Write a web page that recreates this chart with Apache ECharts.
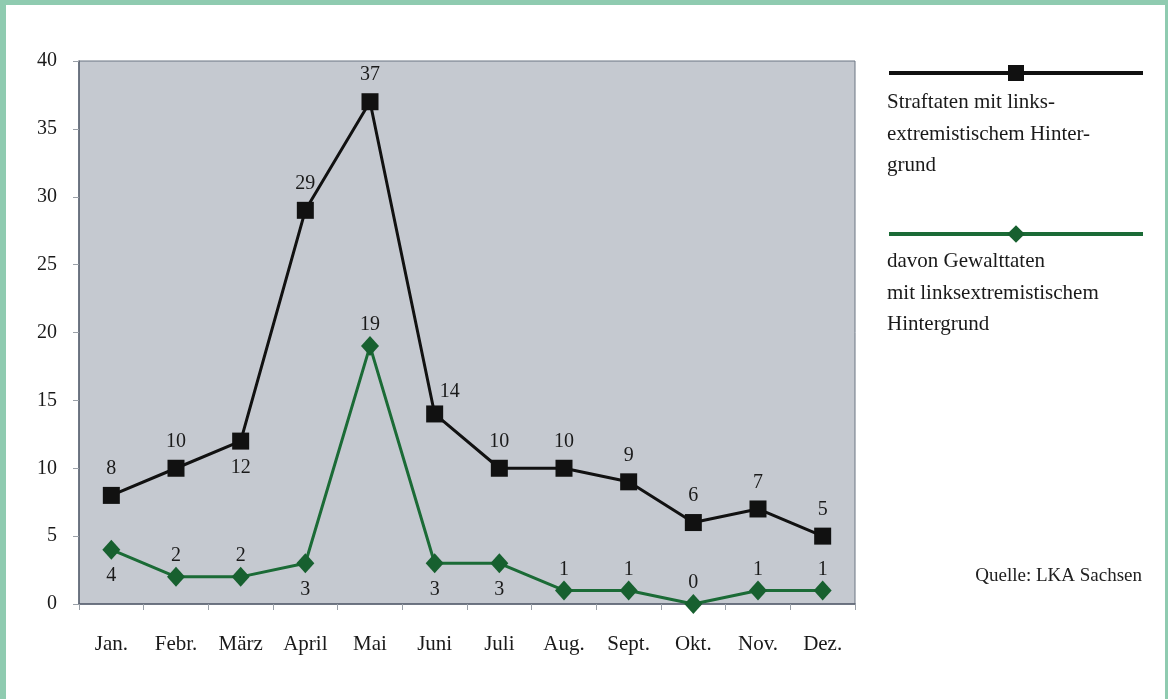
<!DOCTYPE html>
<html>
<head>
<meta charset="utf-8">
<script src="https://cdn.jsdelivr.net/npm/echarts@6/dist/echarts.min.js"></script>
<style>
  html, body { margin: 0; padding: 0; background: #fff; }
  #chart { width: 1168px; height: 699px; }
  .frame {
    position: absolute; left: 0; top: 0; width: 1168px; height: 699px;
    box-sizing: border-box; pointer-events: none;
    border-left: 6px solid #8fcbb0; border-top: 5px solid #8fcbb0;
    border-right: 3px solid #8fcbb0;
  }
</style>
</head>
<body>
<div id="chart"></div>
<div class="frame"></div>
<script>
// Monatswerte
const months = ['Jan.', 'Febr.', 'März', 'April', 'Mai', 'Juni', 'Juli', 'Aug.', 'Sept.', 'Okt.', 'Nov.', 'Dez.']
const straftaten = [8, 10, 12, 29, 37, 14, 10, 10, 9, 6, 7, 5]
const gewalttaten = [4, 2, 2, 3, 19, 3, 3, 1, 1, 0, 1, 1]
const yTicks = [0, 5, 10, 15, 20, 25, 30, 35, 40]

const seriesNames = ['Straftaten mit linksextremistischem Hintergrund', 'davon Gewalttaten mit linksextremistischem Hintergrund']

// which labels sit under the point
const blackBelow = [2]
const greenBelow = [0, 3, 5, 6]

const serif = '"Liberation Serif", "DejaVu Serif", serif'

function blackPoints(values) {
  return values.map((v, i) => {
    let lbl = { position: blackBelow.includes(i) ? 'bottom' : 'top', distance: 8 }
    if (i === 5) lbl = { position: 'top', offset: [15, 4], distance: 8 }
    return { value: v, label: lbl }
  })
}

function greenPoints(values) {
  return values.map((v, i) => {
    const below = greenBelow.includes(i)
    return { value: v, label: { position: below ? 'bottom' : 'top', distance: below ? 6 : 1 } }
  })
}

const chart = echarts.init(document.getElementById('chart'))
chart.setOption({
  backgroundColor: '#ffffff',
  animation: false,
  textStyle: { fontFamily: serif },
  grid: {
    left: 79,
    top: 61,
    right: 313,
    bottom: 95,
    show: true,
    backgroundColor: '#c5c9d0',
    borderColor: '#6b7482',
    borderWidth: 1
  },
  xAxis: {
    type: 'category',
    data: months,
    boundaryGap: true,
    axisLine: { lineStyle: { color: '#5a6270', width: 1.5 } },
    axisTick: { show: true, length: 6, lineStyle: { color: '#9aa0a8' } },
    axisLabel: { color: '#1a1a1a', fontSize: 21, margin: 30, fontFamily: serif }
  },
  yAxis: {
    type: 'value',
    min: yTicks[0],
    max: yTicks[yTicks.length - 1],
    interval: 5,
    axisLine: { show: true, lineStyle: { color: '#5a6270', width: 1.5 } },
    axisTick: { show: true, length: 6, lineStyle: { color: '#9aa0a8' } },
    axisLabel: { color: '#1a1a1a', fontSize: 20, margin: 22, fontFamily: serif },
    splitLine: { show: false }
  },
  legend: [
    {
      left: 887, top: 63, padding: 0, itemWidth: 254, itemHeight: 20, itemGap: 0,
      lineStyle: { width: 4 },
      data: [seriesNames[0]], formatter: () => '', selectedMode: false
    },
    {
      left: 887, top: 223, padding: 0, itemWidth: 254, itemHeight: 22, itemGap: 0,
      lineStyle: { width: 4 },
      data: [seriesNames[1]], formatter: () => '', selectedMode: false
    }
  ],
  title: [
    {
      left: 887, top: 87, padding: 0,
      text: 'Straftaten mit links-\nextremistischem Hinter-\ngrund',
      textStyle: { fontFamily: serif, fontSize: 21, fontWeight: 'normal', color: '#1a1a1a', lineHeight: 31.5 }
    },
    {
      left: 887, top: 246, padding: 0,
      text: 'davon Gewalttaten\nmit linksextremistischem\nHintergrund',
      textStyle: { fontFamily: serif, fontSize: 21, fontWeight: 'normal', color: '#1a1a1a', lineHeight: 31.5 }
    },
    {
      right: 26, top: 567, padding: 0,
      text: 'Quelle: LKA Sachsen',
      textStyle: { fontFamily: serif, fontSize: 19, fontWeight: 'normal', color: '#222' }
    }
  ],
  series: [
    {
      name: seriesNames[0],
      type: 'line',
      data: blackPoints(straftaten),
      symbol: 'rect',
      symbolSize: 17,
      itemStyle: { color: '#111111' },
      lineStyle: { color: '#111111', width: 3 },
      label: { show: true, fontSize: 20, color: '#1a1a1a', fontFamily: serif }
    },
    {
      name: seriesNames[1],
      type: 'line',
      data: greenPoints(gewalttaten),
      symbol: 'diamond',
      symbolSize: [18, 20],
      itemStyle: { color: '#17602f' },
      lineStyle: { color: '#1b6b36', width: 3 },
      label: { show: true, fontSize: 20, color: '#1a1a1a', fontFamily: serif }
    }
  ]
})
</script>
</body>
</html>
